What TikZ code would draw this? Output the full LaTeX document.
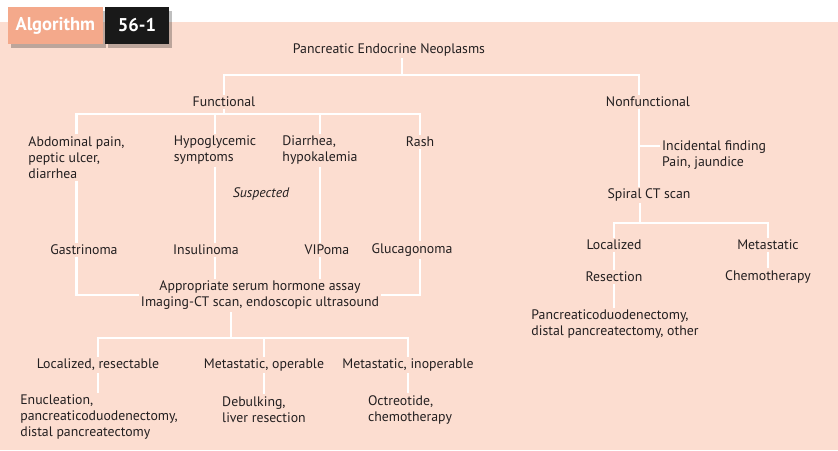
\documentclass[tikz,border=0pt]{standalone}
\usepackage{fontspec}
\setmainfont{PT Sans}
\usetikzlibrary{positioning, calc, shadows}
\definecolor{peach}{HTML}{FCDDD0}
\definecolor{salmon}{HTML}{F4A98B}
\definecolor{ink}{HTML}{231F20}

\begin{document}
\begin{tikzpicture}[x=1pt, y=-1pt,
    box/.style = {text=ink, inner sep=2pt, font=\fontsize{13.8}{16}\selectfont},
    lbox/.style = {box, align=left},
    link/.style = {draw=white, line width=2.5pt},
    tag/.style = {text=white, inner sep=0pt, minimum height=37pt,
                  font=\fontsize{18.5}{20}\selectfont\bfseries,
                  drop shadow={shadow xshift=3pt, shadow yshift=-4pt, fill=black, opacity=0.25}}
]

\useasboundingbox (0,0) rectangle (838,450);
\fill[peach] (0,22) rectangle (838,450);

% Label
\node[tag, fill=salmon, minimum width=94.7pt] (algo) at (55.3,25.5) {Algorithm};
\node[tag, fill=black!90, minimum width=64pt] (num) at (137,25.5) {56-1};

% Top
\node[box] (title) at (389,50) {Pancreatic Endocrine Neoplasms};
\node[box] (fun) at (224,101.7) {Functional};
\node[box] (nonf) at (648,101.7) {Nonfunctional};

% Functional, symptoms
\node[lbox] (abd) at (76.5,157.5) {Abdominal pain,\\peptic ulcer,\\diarrhea};
\node[lbox] (hyp) at (215,150) {Hypoglycemic\\symptoms};
\node[lbox] (dia) at (320,150) {Diarrhea,\\hypokalemia};
\node[box] (rash) at (420,142) {Rash};
\node[box, font=\fontsize{13.8}{16}\selectfont\itshape] (susp) at (261,194) {Suspected};

% Functional, tumours
\node[box] (gas) at (84,250) {Gastrinoma};
\node[box] (ins) at (206,250) {Insulinoma};
\node[box] (vip) at (327,250) {VIPoma};
\node[box] (glu) at (412,250) {Glucagonoma};
\node[box, align=center] (assay) at (260,295.5) {Appropriate serum hormone assay\\Imaging-CT scan, endoscopic ultrasound};

% Functional, management
\node[box] (loc1) at (98,365) {Localized, resectable};
\node[box] (met1) at (264,365) {Metastatic, operable};
\node[box] (met2) at (408,365) {Metastatic, inoperable};
\node[lbox] (enu) at (99,417) {Enucleation,\\pancreaticoduodenectomy,\\distal pancreatectomy};
\node[lbox] (deb) at (264,409.5) {Debulking,\\liver resection};
\node[lbox] (oct) at (410,409.5) {Octreotide,\\chemotherapy};

% Nonfunctional
\node[lbox, anchor=west] (inc) at (660,155) {Incidental finding\\Pain, jaundice};
\node[box] (spiral) at (649,195) {Spiral CT scan};
\node[box] (loc2) at (614,245) {Localized};
\node[box] (meta) at (768,245) {Metastatic};
\node[box] (res) at (614,277) {Resection};
\node[box] (chemo) at (768,277) {Chemotherapy};
\node[lbox] (pan) at (615,324) {Pancreaticoduodenectomy,\\distal pancreatectomy, other};

% Junctions
\coordinate (topbar) at (402,75);
\coordinate (nftop) at (639,75);
\coordinate (funbar) at (224,114);
\coordinate (assaybar) at (248,295);
\coordinate (mgmtbar) at (231,338);
\coordinate (trunk) at (639,146);
\coordinate (ctbar) at (640,223);

% Edges
\draw[link] (title.south -| topbar) -- (topbar);
\draw[link] (fun) |- (topbar) -- (nftop) -- (nftop |- nonf.north);

\draw[link] (fun) -- (funbar);
\draw[link] (abd) |- (funbar) -| (rash);
\draw[link] (hyp) -- (hyp |- funbar);
\draw[link] (dia) -- (dia |- funbar);

\draw[link] (abd) -- (abd |- gas.north);
\draw[link] (hyp) -- (hyp |- ins.north);
\draw[link] (dia) -- (dia |- vip.north);
\draw[link] (rash) -- (rash |- glu.north);

\draw[link] (gas.south -| abd) |- (assaybar -| assay.west);
\draw[link] (glu.south -| rash) |- (assaybar -| assay.east);
\draw[link] (ins.south -| hyp) -- (assay.north -| hyp);
\draw[link] (vip.south -| dia) -- (assay.north -| dia);

\draw[link] (assay.south -| mgmtbar) -- (mgmtbar);
\draw[link] (loc1) |- (mgmtbar) -| (met2);
\draw[link] (met1) -- (met1 |- mgmtbar);

\draw[link] (loc1) -- (loc1 |- enu.north);
\draw[link] (met1) -- (met1 |- deb.north);
\draw[link] (met2) -- (met2 |- oct.north);

\draw[link] (nonf.south -| trunk) -- (spiral.north -| trunk);
\draw[link] (trunk) -- (trunk -| inc.west);

\draw[link] (spiral.south -| ctbar) -- (ctbar);
\draw[link] (loc2) |- (ctbar) -| (meta);
\draw[link] (loc2) -- (res);
\draw[link] (meta) -- (chemo);
\draw[link] (res) -- (res |- pan.north);

\end{tikzpicture}
\end{document}
